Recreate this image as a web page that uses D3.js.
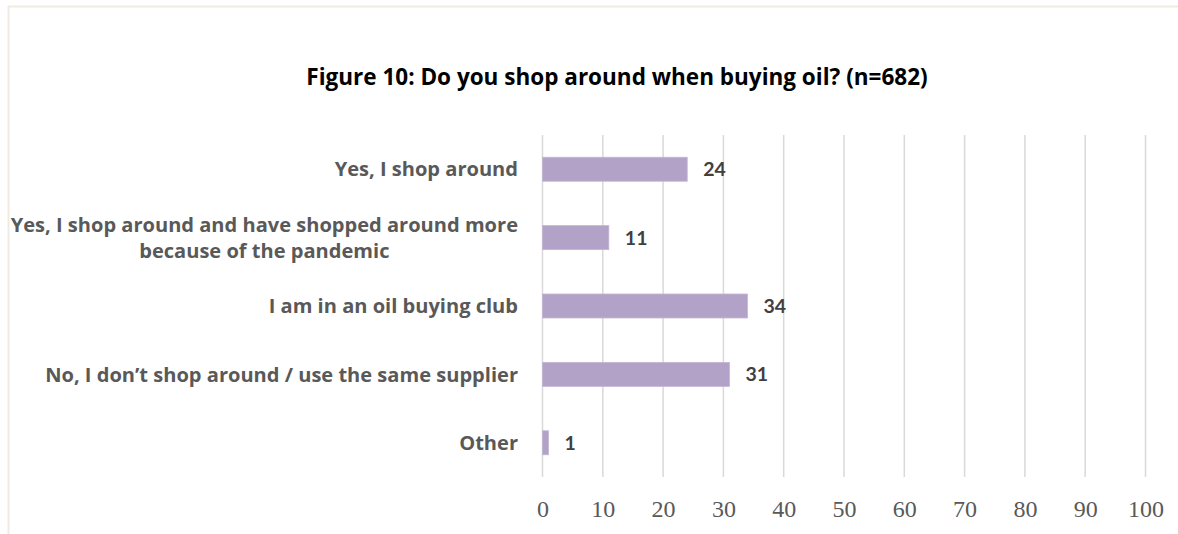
<!DOCTYPE html>
<html>
<head>
<meta charset="utf-8">
<script src="https://cdn.jsdelivr.net/npm/d3@7"></script>
<style>
  html, body { margin: 0; padding: 0; background: #fff; }
  svg { display: block; }
</style>
</head>
<body>
<svg id="chart" width="1178" height="534"></svg>
<script>
// Survey responses, percent of respondents
const categories = [
  "Yes, I shop around",
  "Yes, I shop around and have shopped around more|because of the pandemic",
  "I am in an oil buying club",
  "No, I don\u2019t shop around / use the same supplier",
  "Other"
];
const values = [24, 11, 34, 31, 1];
const tickValues = [0, 10, 20, 30, 40, 50, 60, 70, 80, 90, 100];
const title = "Figure 10: Do you shop around when buying oil? (n=682)";

const svg = d3.select("#chart");
const W = 1178, H = 534;
const sansBold = "'Open Sans', Lato, sans-serif";

// Scale a text node's font size so its rendered width equals `target`
function fitWidth(sel, target) {
  const node = sel.node();
  const size = parseFloat(sel.attr("font-size"));
  const w = node.getComputedTextLength();
  sel.attr("font-size", size * target / w);
}

// Light frame along the top and left edges
svg.append("line").attr("x1", 8).attr("x2", W).attr("y1", 6.5).attr("y2", 6.5)
  .attr("stroke", "#efebe0").attr("stroke-width", 2);
svg.append("line").attr("x1", 8.5).attr("x2", 8.5).attr("y1", 6).attr("y2", H)
  .attr("stroke", "#efebe0").attr("stroke-width", 2);

const x = d3.scaleLinear().domain([0, 100]).range([542.5, 1145.5]);
const y = d3.scaleBand().domain(categories).range([135, 477])
  .paddingInner(0.649).paddingOuter(0.325);

// Title
const titleText = svg.append("text")
  .attr("x", 617).attr("y", 85)
  .attr("text-anchor", "middle")
  .attr("font-family", sansBold).attr("font-weight", "bold")
  .attr("font-size", 20).attr("fill", "#000")
  .text(title);
fitWidth(titleText, 622);

// Vertical gridlines
svg.append("g").selectAll("line").data(tickValues).join("line")
  .attr("x1", d => x(d)).attr("x2", d => x(d))
  .attr("y1", 135).attr("y2", 477)
  .attr("stroke", "#d9d9d9").attr("stroke-width", 1.5);

// Bottom axis labels (no domain line, no tick marks)
const axis = svg.append("g").attr("transform", "translate(0,477)")
  .call(d3.axisBottom(x).tickValues(tickValues).tickSize(0).tickPadding(0));
axis.select(".domain").remove();
axis.selectAll("text")
  .attr("y", 40).attr("dy", null)
  .attr("font-family", "'Liberation Serif', 'DejaVu Serif', serif")
  .attr("font-size", 24).attr("fill", "#595959");

// Bars
svg.append("g").selectAll("rect").data(categories).join("rect")
  .attr("x", x(0))
  .attr("y", d => y(d))
  .attr("width", (d, i) => x(values[i]) - x(0))
  .attr("height", y.bandwidth())
  .attr("fill", "#b3a2c7")
  .attr("stroke", "#c4b6d4").attr("stroke-width", 0.8);

// Value labels
svg.append("g").selectAll("text").data(categories).join("text")
  .attr("x", (d, i) => x(values[i]) + 16)
  .attr("y", d => y(d) + y.bandwidth() / 2)
  .attr("dy", "0.36em")
  .attr("font-family", "Lato, sans-serif").attr("font-weight", "bold")
  .attr("font-size", 19.5).attr("fill", "#404040")
  .text((d, i) => values[i]);

// Category labels, right aligned; wrapped lines centred on each other
const labelRight = 518;
const lineGap = 26;
const catG = svg.append("g");
// size the label font so the longest line spans the measured width
const probe = catG.append("text").attr("font-family", sansBold)
  .attr("font-weight", "bold").attr("font-size", 18).text(categories[3]);
fitWidth(probe, 473);
const catSize = parseFloat(probe.attr("font-size"));
probe.remove();

categories.forEach(c => {
  const lines = c.split("|");
  const cy = y(c) + y.bandwidth() / 2;
  const t = catG.append("text")
    .attr("font-family", sansBold).attr("font-weight", "bold")
    .attr("font-size", catSize).attr("fill", "#595959");
  lines.forEach((ln, j) => {
    t.append("tspan").attr("y", cy + (j - (lines.length - 1) / 2) * lineGap)
      .attr("dy", "0.36em").text(ln);
  });
  if (lines.length === 1) {
    t.attr("text-anchor", "end").selectAll("tspan").attr("x", labelRight);
  } else {
    let maxW = 0;
    t.selectAll("tspan").each(function () {
      maxW = Math.max(maxW, this.getComputedTextLength());
    });
    t.attr("text-anchor", "middle").selectAll("tspan").attr("x", labelRight - maxW / 2);
  }
});
</script>
</body>
</html>
